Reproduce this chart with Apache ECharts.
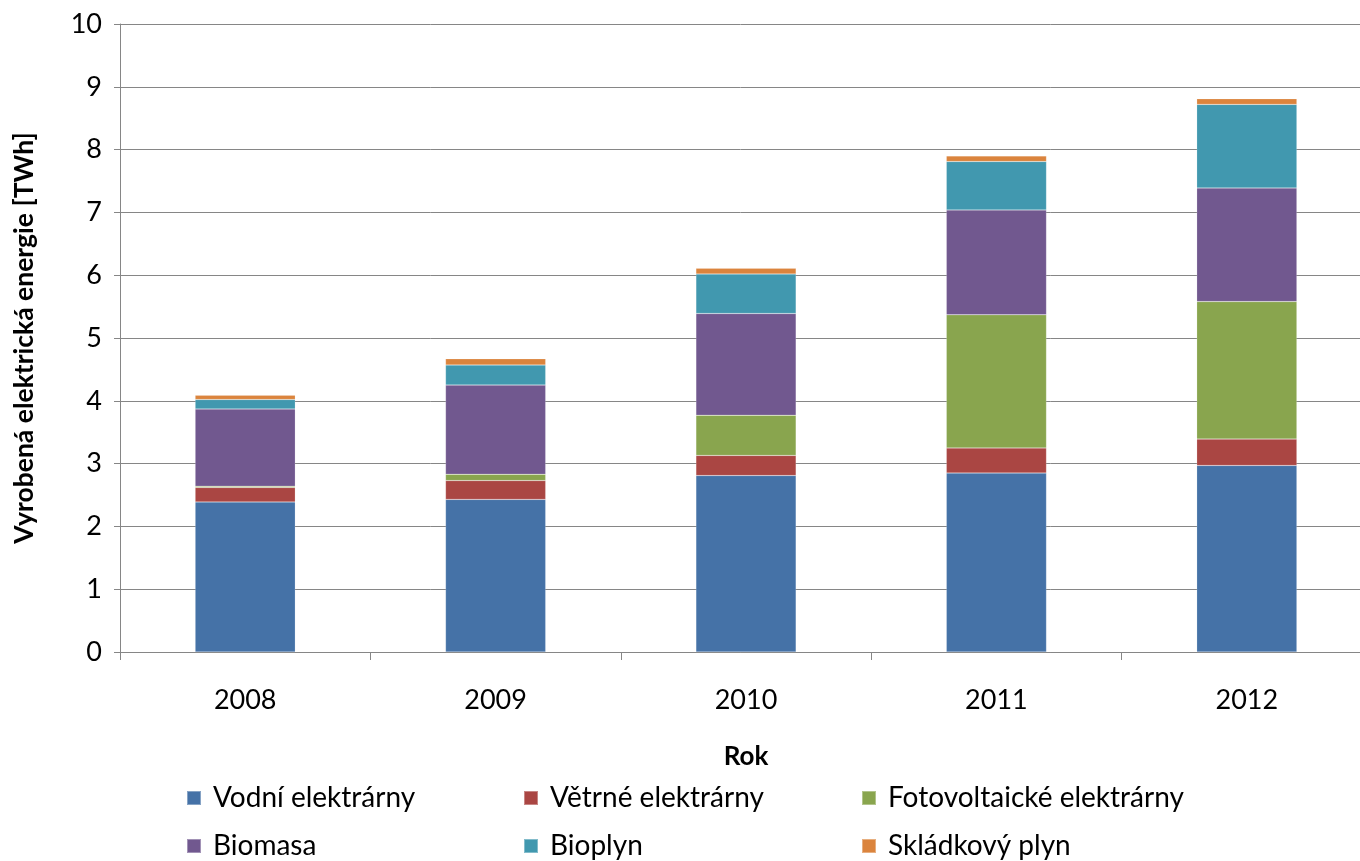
<!DOCTYPE html>
<html>
<head>
<meta charset="utf-8">
<script src="https://cdn.jsdelivr.net/npm/echarts@6/dist/echarts.min.js"></script>
<style>
  html, body { margin: 0; padding: 0; background: #fff; overflow: hidden; }
  #chart { width: 1360px; height: 861px; }
</style>
</head>
<body>
<div id="chart"></div>
<script>
// Výroba elektřiny z obnovitelných zdrojů [TWh]
const years = ['2008', '2009', '2010', '2011', '2012'];
const vodni = [2.39, 2.43, 2.81, 2.85, 2.97];
const vetrne = [0.23, 0.30, 0.32, 0.40, 0.42];
const fotovoltaicke = [0.02, 0.10, 0.64, 2.12, 2.19];
const biomasa = [1.23, 1.42, 1.62, 1.67, 1.81];
const bioplyn = [0.15, 0.32, 0.63, 0.77, 1.33];
const skladkovy = [0.07, 0.10, 0.09, 0.09, 0.09];
const yTicks = [0, 1, 2, 3, 4, 5, 6, 7, 8, 9, 10];

const font = 'Lato, "Open Sans", "Liberation Sans", sans-serif';

const seriesDefs = [
  { name: 'Vodní elektrárny', data: vodni, color: '#4572A7' },
  { name: 'Větrné elektrárny', data: vetrne, color: '#AA4643' },
  { name: 'Fotovoltaické elektrárny', data: fotovoltaicke, color: '#89A54E' },
  { name: 'Biomasa', data: biomasa, color: '#71588F' },
  { name: 'Bioplyn', data: bioplyn, color: '#4198AF' },
  { name: 'Skládkový plyn', data: skladkovy, color: '#DB843D' }
];

// legend positions: two rows of three
const legendPos = [
  [186, 784], [523, 784], [861, 784],
  [186, 832], [523, 832], [861, 832]
];

const chart = echarts.init(document.getElementById('chart'), null, { renderer: 'canvas' });

chart.setOption({
  animation: false,
  backgroundColor: '#ffffff',
  textStyle: { fontFamily: font },
  grid: {
    left: 120, width: 1252, top: 24, bottom: 209,
    containLabel: false, outerBoundsMode: 'none'
  },
  legend: seriesDefs.map((s, i) => ({
    data: [s.name],
    left: legendPos[i][0],
    top: legendPos[i][1],
    padding: 0,
    itemWidth: 14,
    itemHeight: 14,
    itemGap: 0,
    icon: 'rect',
    textStyle: { fontFamily: font, fontSize: 28, color: '#000', padding: [0, 0, 0, 7] }
  })),
  xAxis: {
    type: 'category',
    data: years,
    name: 'Rok',
    nameLocation: 'middle',
    nameGap: 92,
    nameTextStyle: { fontFamily: font, fontSize: 26, fontWeight: 'bold', color: '#000' },
    axisLine: { show: true, lineStyle: { color: '#868686', width: 1 } },
    axisTick: { show: true, length: 8, alignWithLabel: false, lineStyle: { color: '#868686' } },
    axisLabel: { fontFamily: font, fontSize: 27, color: '#000', margin: 35 },
    splitLine: { show: false }
  },
  yAxis: {
    type: 'value',
    min: yTicks[0],
    max: yTicks[yTicks.length - 1],
    interval: 1,
    name: 'Vyrobená elektrická energie [TWh]',
    nameLocation: 'middle',
    nameGap: 82,
    nameTextStyle: { fontFamily: font, fontSize: 26.5, fontWeight: 'bold', color: '#000' },
    axisLine: { show: true, lineStyle: { color: '#868686', width: 1 } },
    axisTick: { show: true, inside: false, length: 6, lineStyle: { color: '#868686' } },
    axisLabel: { fontFamily: font, fontSize: 27, color: '#000', margin: 18 },
    splitLine: { show: true, lineStyle: { color: '#868686', width: 1 } }
  },
  series: seriesDefs.map(s => ({
    name: s.name,
    type: 'bar',
    stack: 'celkem',
    barWidth: '40%',
    data: s.data,
    itemStyle: { color: s.color, borderColor: 'rgba(255,255,255,0.35)', borderWidth: 0.5 },
    emphasis: { disabled: true }
  }))
});
</script>
</body>
</html>
